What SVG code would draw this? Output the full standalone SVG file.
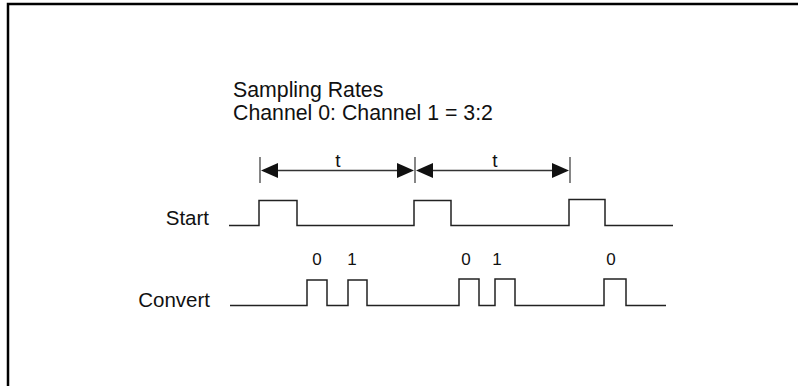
<svg xmlns="http://www.w3.org/2000/svg" width="798" height="386" viewBox="0 0 798 386">
<style>
  .lbl{font-family:"Liberation Sans",Arial,Helvetica,sans-serif;fill:#111}
  .sig{fill:none;stroke:#222;stroke-width:1.5}
  .dim{fill:none;stroke:#333;stroke-width:1.3}
  .tick{stroke:#444;stroke-width:1.3}
  .head{fill:#111}
</style>
<rect x="0" y="0" width="798" height="386" fill="#fff"/>
<path d="M8,390 V4 H802" fill="none" stroke="#000" stroke-width="2.5"/>
<g id="title">
  <text class="lbl" x="233" y="97" font-size="21.3">Sampling Rates</text>
  <text class="lbl" x="233" y="120" font-size="21.3">Channel 0: Channel 1 = 3:2</text>
</g>
<g id="start-label"><text class="lbl" x="209" y="225" font-size="20.5" text-anchor="end">Start</text></g>
<g id="convert-label"><text class="lbl" x="210" y="307" font-size="20.5" text-anchor="end">Convert</text></g>
<g id="connectors">
  <line class="tick" x1="260" y1="157" x2="260" y2="183"/>
  <line class="tick" x1="415" y1="157" x2="415" y2="183"/>
  <line class="tick" x1="570" y1="157" x2="570" y2="183"/>
  <line class="dim" x1="275" y1="170.5" x2="400" y2="170.5"/>
  <line class="dim" x1="430" y1="170.5" x2="555" y2="170.5"/>
  <polygon class="head" points="261,170.5 278,163 278,178"/>
  <polygon class="head" points="414,170.5 397,163 397,178"/>
  <polygon class="head" points="416,170.5 433,163 433,178"/>
  <polygon class="head" points="569,170.5 552,163 552,178"/>
</g>
<g id="t-labels">
  <text class="lbl" x="338" y="167" font-size="19" text-anchor="middle">t</text>
  <text class="lbl" x="495" y="167" font-size="19" text-anchor="middle">t</text>
</g>
<g id="start-signal">
  <path class="sig" d="M229,225.5 H259 V200.5 H297 V225.5 H414 V200.5 H451 V225.5 H569 V199.5 H605 V225.5 H673"/>
</g>
<g id="convert-signal">
  <path class="sig" d="M230,305.5 H307 V280 H327 V305.5 H348 V280 H367 V305.5 H459 V279 H479 V305.5 H495 V279 H515 V305.5 H604 V279 H626 V305.5 H666"/>
</g>
<g id="channel-labels">
  <text class="lbl" x="317" y="265" font-size="17" text-anchor="middle">0</text>
  <text class="lbl" x="352" y="265" font-size="17" text-anchor="middle">1</text>
  <text class="lbl" x="466" y="265" font-size="17" text-anchor="middle">0</text>
  <text class="lbl" x="497" y="265" font-size="17" text-anchor="middle">1</text>
  <text class="lbl" x="611" y="265" font-size="17" text-anchor="middle">0</text>
</g>
</svg>
